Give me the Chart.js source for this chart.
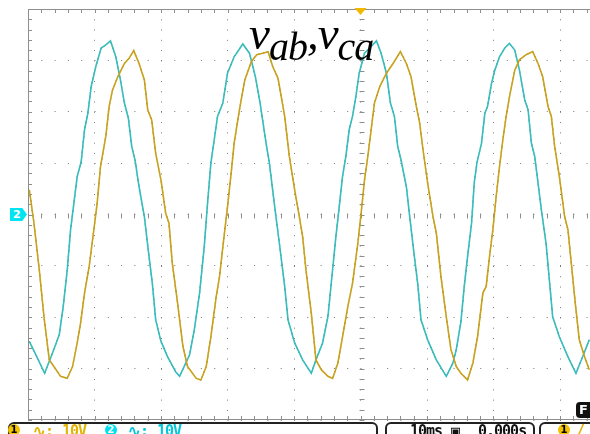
<!DOCTYPE html>
<html>
<head>
<meta charset="utf-8">
<script src="https://cdn.jsdelivr.net/npm/chart.js@4.4.0/dist/chart.umd.min.js"></script>
<style>
  html, body { margin: 0; padding: 0; background: #fff; overflow: hidden; }
  #wrap { position: relative; width: 590px; height: 434px; overflow: hidden; }
  #scope { position: absolute; left: 0; top: 0; }
  .title { position: absolute; left: 249px; top: 10px; font-family: "Liberation Serif", "Times New Roman", serif;
           font-style: italic; font-size: 47px; line-height: 1; color: #000; white-space: nowrap; letter-spacing: -1px; }
  .title .sub { font-size: 40px; position: relative; top: 11px; }
  .marker2 { position: absolute; left: 10px; top: 208px; width: 17px; height: 13px; background: #00e4f2;
             clip-path: polygon(0 0, 72% 0, 100% 50%, 72% 100%, 0 100%); color: #fff;
             font: bold 11px "DejaVu Sans", sans-serif; line-height: 13px; text-indent: 3px; }
  .panel { position: absolute; top: 422px; height: 22px; border: 2px solid #222; border-radius: 6px; background: #fff; }
  .stat { position: absolute; top: 424px; font: bold 15px "DejaVu Sans Mono", monospace; line-height: 15px; white-space: nowrap; letter-spacing: -1px; }
  .dot { position: absolute; top: 424px; width: 12px; height: 12px; border-radius: 6px; text-align: center;
         font: bold 10px "DejaVu Sans", sans-serif; line-height: 12px; }
  .fbtn { position: absolute; left: 576px; top: 402px; width: 20px; height: 16px; background: #111; border-radius: 4px;
          color: #fff; font: bold 13px "DejaVu Sans", sans-serif; line-height: 16px; text-indent: 3px; }
</style>
</head>
<body>
<div id="wrap">
  <canvas id="scope" width="700" height="434"></canvas>
  <div class="title">v<span class="sub">ab</span>,v<span class="sub">ca</span></div>
  <div class="marker2">2</div>
  <div class="panel" style="left:8px; width:366px;"></div>
  <div class="panel" style="left:385px; width:146px;"></div>
  <div class="panel" style="left:539px; width:80px;"></div>
  <div class="dot" style="left:8px; background:#f2c200; color:#000;">1</div>
  <div class="stat" style="left:33px; color:#e0b400;">∿:</div>
  <div class="stat" style="left:62px; color:#e0b400;">10V</div>
  <div class="dot" style="left:105px; background:#00e0f0; color:#fff;">2</div>
  <div class="stat" style="left:128px; color:#00c8d8;">∿:</div>
  <div class="stat" style="left:157px; color:#00c8d8;">10V</div>
  <div class="stat" style="left:410px; color:#111;">10ms</div>
  <div class="stat" style="left:451px; color:#111;">▣</div>
  <div class="stat" style="left:478px; color:#111;">0.000s</div>
  <div class="dot" style="left:558px; background:#f2c200; color:#000;">1</div>
  <div class="stat" style="left:576px; color:#e0b400;">/</div>
  <div class="fbtn">F</div>
</div>
<script>
// channel 1 (yellow) - time in ms, volts
var timeCh1 = [-49.8,-49.1,-48.3,-47.6,-46.8,-46.1,-45.1,-44.1,-43.3,-42.6,
  -42.1,-41.5,-40.8,-40.1,-39.6,-39.1,-38.3,-37.8,-37.3,-36.5,
  -35.5,-34.8,-34.1,-33.3,-32.5,-32.0,-31.4,-30.8,-30.0,-29.3,
  -28.8,-28.3,-27.5,-26.7,-26.0,-24.7,-24.0,-23.2,-22.5,-21.7,
  -21.2,-20.7,-20.0,-19.4,-19.0,-18.2,-17.4,-16.4,-15.6,-14.7,
  -13.9,-13.2,-12.4,-11.4,-10.7,-9.9,-9.2,-8.7,-8.2,-7.4,
  -6.7,-5.9,-4.9,-4.2,-3.4,-2.7,-1.9,-1.2,-0.4,0.1,
  0.6,1.1,1.6,2.1,2.9,3.9,4.9,6.0,6.9,7.6,
  8.4,8.9,9.4,10.1,10.9,11.4,12.1,12.9,13.6,14.4,
  15.1,16.1,16.9,17.6,18.4,18.9,19.4,19.9,20.4,20.9,
  21.4,21.9,22.4,23.2,23.9,24.9,25.9,26.7,27.4,28.2,
  28.7,29.2,29.9,30.7,31.2,31.7,32.3,32.9,33.7,34.4];
var voltCh1 = [4.8,-1.7,-10.8,-19.9,-28.3,-29.6,-31.5,-31.9,-29.6,-25.0,
  -21.2,-15.3,-10.1,-3.0,2.2,9.3,15.2,21.0,24.2,26.8,
  29.4,30.4,31.9,29.4,26.2,20.4,18.4,11.9,6.7,0.3,
  -1.7,-9.5,-17.3,-25.7,-29.6,-31.9,-32.2,-29.6,-23.8,-16.0,
  -12.1,-6.3,1.5,8.7,13.9,20.4,26.2,29.8,31.1,31.4,
  31.7,28.8,26.5,19.1,11.3,4.8,-0.4,-4.3,-10.8,-19.2,
  -28.3,-30.2,-31.5,-31.9,-28.9,-23.8,-17.9,-13.4,-5.6,0.3,
  6.7,11.3,16.5,21.7,24.9,27.5,29.4,31.7,29.4,26.8,
  21.0,17.8,12.6,6.1,-0.4,-3.6,-12.1,-19.9,-26.3,-29.6,
  -30.9,-32.2,-28.9,-23.8,-15.3,-14.0,-8.2,-3.0,3.5,9.3,
  14.5,19.1,22.9,28.1,30.1,31.1,31.7,29.4,26.8,21.0,
  19.1,13.2,7.4,-0.4,-3.0,-9.5,-17.3,-24.4,-27.7,-30.2];

// channel 2 (cyan)
var timeCh2 = [-49.8,-48.6,-47.5,-46.3,-45.3,-44.7,-44.1,-43.6,-43.1,-42.6,
  -42.0,-41.5,-41.0,-40.5,-39.8,-39.0,-38.3,-37.6,-36.8,-36.1,
  -35.5,-34.9,-34.4,-33.9,-33.3,-32.5,-31.8,-31.3,-30.8,-30.0,
  -29.0,-27.8,-27.2,-25.7,-25.0,-24.2,-23.5,-23.0,-22.5,-22.0,
  -21.5,-20.7,-20.0,-19.0,-17.7,-16.7,-15.8,-15.1,-14.2,-13.7,
  -12.9,-12.2,-11.4,-10.9,-9.9,-8.7,-7.4,-6.7,-5.7,-4.9,
  -4.2,-3.7,-3.2,-2.7,-2.2,-1.7,-1.2,-0.7,-0.2,0.6,
  1.6,2.4,3.1,3.9,4.5,5.1,5.6,6.1,6.9,7.4,
  8.1,8.6,9.1,10.1,11.4,12.9,13.9,14.4,15.1,15.6,
  16.1,16.7,17.1,17.5,18.2,18.7,19.1,19.7,20.2,20.9,
  21.7,22.4,23.2,23.9,24.7,25.2,25.7,26.2,26.7,27.2,
  27.9,28.4,28.9,29.9,31.2,32.4,33.4,34.4];
var voltCh2 = [-24.7,-27.9,-30.9,-26.9,-23.4,-17.9,-10.8,-3.0,2.2,7.4,
  10.3,16.5,19.7,24.9,28.8,32.4,33.0,33.8,30.7,26.2,
  21.7,18.7,13.2,10.6,5.4,-0.4,-8.2,-13.4,-20.5,-24.7,
  -27.7,-30.6,-31.5,-27.3,-22.5,-15.3,-6.3,2.2,10.0,14.5,
  19.1,21.7,27.5,30.7,33.2,31.4,26.8,21.7,13.9,10.0,
  1.5,-5.6,-14.0,-20.5,-25.0,-28.3,-30.9,-28.3,-25.0,-19.9,
  -10.8,-4.3,1.5,7.4,11.3,16.5,19.1,22.9,27.5,31.4,
  32.7,33.8,31.4,27.5,21.7,19.1,13.2,10.6,5.4,-0.4,
  -8.2,-13.4,-20.5,-24.4,-28.3,-31.5,-28.9,-26.3,-20.9,-14.0,
  -8.2,-1.7,6.1,10.0,13.9,19.7,21.0,25.5,28.1,30.7,
  32.4,33.3,32.0,28.1,22.3,20.4,13.9,11.3,6.1,0.9,
  -5.6,-12.7,-19.9,-23.8,-27.7,-30.9,-27.7,-24.4];

// screen: 10 div x 10 ms, 8 div x 10 V
var timeRange = [-50, 50];
var voltRange = [-40, 40];
var timePerDiv = 10;
var voltPerDiv = 10;
var minorTime = 2;
var minorVolt = 2;

function toPoints(ts, vs) {
  var pts = [];
  for (var i = 0; i < ts.length; i++) pts.push({ x: ts[i], y: vs[i] });
  return pts;
}

var ch1Points = toPoints(timeCh1, voltCh1);
var ch2Points = toPoints(timeCh2, voltCh2);

// graticule border, minor ticks and trigger marker
var scopeFrame = {
  id: 'scopeFrame',
  beforeDatasetsDraw: function (chart) {
    var ctx = chart.ctx, a = chart.chartArea;
    var xs = chart.scales.x, ys = chart.scales.y;
    ctx.save();
    ctx.strokeStyle = '#8e8e8e';
    ctx.lineWidth = 1;
    ctx.strokeRect(a.left + 0.5, a.top + 0.5, a.right - a.left - 1, a.bottom - a.top - 1);
    var x0 = Math.round(xs.getPixelForValue(0)) + 0.5;
    var y0 = Math.round(ys.getPixelForValue(0)) + 0.5;
    ctx.beginPath();
    for (var t = timeRange[0]; t <= timeRange[1]; t += minorTime) {
      var px = Math.round(xs.getPixelForValue(t)) + 0.5;
      ctx.moveTo(px, a.top); ctx.lineTo(px, a.top + 4);
      ctx.moveTo(px, a.bottom); ctx.lineTo(px, a.bottom - 4);
      ctx.moveTo(px, y0 - 2); ctx.lineTo(px, y0 + 3);
    }
    for (var v = voltRange[0]; v <= voltRange[1]; v += minorVolt) {
      var py = Math.round(ys.getPixelForValue(v)) + 0.5;
      ctx.moveTo(a.left, py); ctx.lineTo(a.left + 4, py);
      ctx.moveTo(x0 - 2, py); ctx.lineTo(x0 + 3, py);
    }
    ctx.stroke();
    ctx.restore();
  },
  afterDraw: function (chart) {
    var ctx = chart.ctx, a = chart.chartArea;
    var tx = chart.scales.x.getPixelForValue(0);
    ctx.save();
    ctx.fillStyle = '#f2b800';
    ctx.beginPath();
    ctx.moveTo(tx - 6, a.top - 1);
    ctx.lineTo(tx + 6, a.top - 1);
    ctx.lineTo(tx, a.top + 6);
    ctx.closePath();
    ctx.fill();
    ctx.restore();
  }
};

var ctx = document.getElementById('scope').getContext('2d');

var chartData = {
  type: 'line',
  data: {
    datasets: [
      {
        label: 'v_ca',
        data: ch1Points,
        borderColor: '#c9a21c',
        borderWidth: 1.6,
        pointRadius: 0,
        tension: 0
      },
      {
        label: 'v_ca dark',
        data: ch1Points,
        borderColor: 'rgba(60,44,0,0.9)',
        borderWidth: 1,
        borderDash: [2, 3],
        pointRadius: 0,
        tension: 0
      },
      {
        label: 'v_ab',
        data: ch2Points,
        borderColor: '#38bcbc',
        borderWidth: 1.6,
        pointRadius: 0,
        tension: 0
      },
      {
        label: 'v_ab dark',
        data: ch2Points,
        borderColor: 'rgba(15,70,70,0.9)',
        borderWidth: 1,
        borderDash: [2, 3],
        pointRadius: 0,
        tension: 0
      }
    ]
  },
  options: {
    responsive: false,
    animation: false,
    events: [],
    layout: { padding: { left: 28, top: 9, right: 7, bottom: 14 } },
    plugins: { legend: { display: false }, tooltip: { enabled: false } },
    scales: {
      x: {
        type: 'linear',
        min: timeRange[0],
        max: timeRange[1],
        ticks: { display: false, stepSize: timePerDiv },
        grid: { color: '#7a7a7a', drawTicks: false, lineWidth: 1 },
        border: { display: false, dash: [1, 9.28] }
      },
      y: {
        type: 'linear',
        min: voltRange[0],
        max: voltRange[1],
        ticks: { display: false, stepSize: voltPerDiv },
        grid: { color: '#7a7a7a', drawTicks: false, lineWidth: 1 },
        border: { display: false, dash: [1, 12.3] }
      }
    }
  },
  plugins: [scopeFrame]
};

var myChart = new Chart(ctx, chartData);
</script>
</body>
</html>
